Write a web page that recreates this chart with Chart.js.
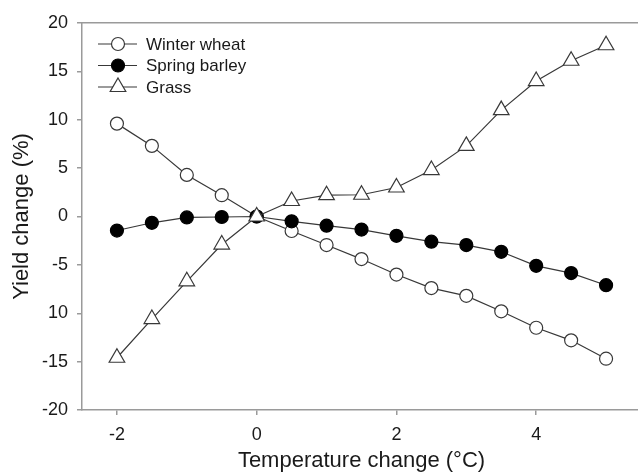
<!DOCTYPE html>
<html>
<head>
<meta charset="utf-8">
<script src="https://cdn.jsdelivr.net/npm/chart.js"></script>
<style>
  html, body { margin: 0; padding: 0; background: #fff; overflow: hidden; }
  #wrap { width: 641px; height: 472px; }
</style>
</head>
<body>
<div id="wrap"><canvas id="yieldChart" width="641" height="472"></canvas></div>
<script>
// temperature change (°C)
var temps = [-2, -1.5, -1, -0.5, 0, 0.5, 1, 1.5, 2, 2.5, 3, 3.5, 4, 4.5, 5];

// yield change (%)
var winterWheat = [9.6, 7.3, 4.3, 2.2, 0, -1.5, -2.95, -4.4, -6.0, -7.4, -8.2, -9.8, -11.5, -12.8, -14.7];
var springBarley = [-1.45, -0.65, -0.1, -0.05, 0, -0.5, -0.95, -1.35, -2.0, -2.6, -2.95, -3.65, -5.1, -5.85, -7.1];
var grass = [-14.6, -10.6, -6.7, -2.9, 0, 1.6, 2.2, 2.25, 3.0, 4.8, 7.3, 11.0, 14.0, 16.1, 17.7];

var seriesNames = ['Winter wheat', 'Spring barley', 'Grass'];

var xTicks = [-2, 0, 2, 4];
var yTicks = [-20, -15, -10, -5, 0, 5, 10, 15, 20];
// labels as printed on the figure
var yTickLabels = ['-20', '-15', '10', '-5', '0', '5', '10', '15', '20'];

function points(values) {
    return temps.map(function(t, i){ return { x: t, y: values[i] }; });
}

var lineColor = '#383838';
var axisColor = '#9a9a9a';
var textColor = '#1a1a1a';
var fontFamily = 'Arial, "Liberation Sans", Helvetica, sans-serif';

// no side padding, the plot runs to the right edge
function noSidePadding(scale){
    scale.paddingLeft = 0;
    scale.paddingRight = 0;
}

// legend drawn inside the plot area, top left
var insideLegend = {
    id: 'insideLegend',
    afterDraw: function(chart){
        var ctx = chart.ctx;
        var left = chart.chartArea.left;
        ctx.save();
        chart.data.datasets.forEach(function(ds, i){
            var y = 44 + i * 21.5;
            var cx = left + 36;
            ctx.strokeStyle = ds.borderColor;
            ctx.lineWidth = 1.2;
            ctx.beginPath();
            ctx.moveTo(left + 16, y);
            ctx.lineTo(left + 55, y);
            ctx.stroke();

            var r = ds.pointRadius;
            ctx.fillStyle = ds.pointBackgroundColor;
            ctx.strokeStyle = ds.pointBorderColor;
            ctx.lineWidth = ds.pointBorderWidth;
            ctx.beginPath();
            if (ds.pointStyle === 'triangle') {
                for (var k = 0; k < 3; k++) {
                    var a = k * 2 * Math.PI / 3;
                    var px = cx + Math.sin(a) * r, py = y - Math.cos(a) * r;
                    if (k === 0) ctx.moveTo(px, py); else ctx.lineTo(px, py);
                }
                ctx.closePath();
            } else {
                ctx.arc(cx, y, r, 0, Math.PI * 2);
            }
            ctx.fill();
            ctx.stroke();

            ctx.fillStyle = textColor;
            ctx.font = '17px ' + fontFamily;
            ctx.textAlign = 'left';
            ctx.textBaseline = 'middle';
            ctx.fillText(seriesNames[i], left + 64, y + 1);
        });
        ctx.restore();
    }
};

var ctx = document.getElementById('yieldChart');
var yieldChart = new Chart(ctx, {
    type: 'line',
    plugins: [insideLegend],
    data: {
        datasets: [
            {
                label: seriesNames[0],
                data: points(winterWheat),
                order: 2,
                borderColor: lineColor,
                borderWidth: 1.2,
                pointStyle: 'circle',
                pointRadius: 6.5,
                pointBackgroundColor: '#ffffff',
                pointBorderColor: lineColor,
                pointBorderWidth: 1.2
            },
            {
                label: seriesNames[1],
                data: points(springBarley),
                order: 1,
                borderColor: lineColor,
                borderWidth: 1.2,
                pointStyle: 'circle',
                pointRadius: 6.5,
                pointBackgroundColor: '#000000',
                pointBorderColor: '#000000',
                pointBorderWidth: 1.2
            },
            {
                label: seriesNames[2],
                data: points(grass),
                order: 0,
                borderColor: lineColor,
                borderWidth: 1.2,
                pointStyle: 'triangle',
                pointRadius: 9,
                pointBackgroundColor: '#ffffff',
                pointBorderColor: lineColor,
                pointBorderWidth: 1.2
            }
        ]
    },
    options: {
        responsive: false,
        animation: false,
        layout: { padding: 0, autoPadding: false },
        plugins: {
            legend: { display: false },
            tooltip: { enabled: false }
        },
        elements: { line: { tension: 0 } },
        scales: {
            x: {
                type: 'linear',
                position: 'bottom',
                min: -2.5,
                max: 5.5,
                afterBuildTicks: function(scale){
                    scale.ticks = xTicks.map(function(v){ return { value: v }; });
                },
                afterFit: function(scale){
                    scale.height = 62;
                    noSidePadding(scale);
                },
                ticks: {
                    color: textColor,
                    font: { family: fontFamily, size: 18 },
                    padding: 9,
                    maxRotation: 0
                },
                grid: {
                    display: true,
                    drawOnChartArea: false,
                    drawTicks: true,
                    tickLength: 5,
                    color: axisColor,
                    lineWidth: 1.5
                },
                border: { display: true, color: axisColor, width: 1.5 },
                title: {
                    display: true,
                    text: 'Temperature change (°C)',
                    color: textColor,
                    font: { family: fontFamily, size: 22, lineHeight: 1 },
                    padding: { top: 0, bottom: 0 }
                }
            },
            xTop: {
                type: 'linear',
                position: 'top',
                min: -2.5,
                max: 5.5,
                afterBuildTicks: function(scale){
                    scale.ticks = xTicks.map(function(v){ return { value: v }; });
                },
                afterFit: function(scale){
                    scale.height = 23;
                    noSidePadding(scale);
                },
                ticks: { display: false },
                grid: { display: false, drawTicks: false },
                border: { display: true, color: axisColor, width: 1.5 }
            },
            y: {
                type: 'linear',
                min: -20,
                max: 20,
                afterBuildTicks: function(scale){
                    scale.ticks = yTicks.map(function(v){ return { value: v }; });
                },
                afterFit: function(scale){ scale.width = 82; },
                ticks: {
                    color: textColor,
                    font: { family: fontFamily, size: 18 },
                    padding: 9,
                    callback: function(value){
                        var i = yTicks.indexOf(value);
                        return i >= 0 ? yTickLabels[i] : '';
                    }
                },
                grid: {
                    display: true,
                    drawOnChartArea: false,
                    drawTicks: true,
                    tickLength: 5,
                    color: axisColor,
                    lineWidth: 1.5
                },
                border: { display: true, color: axisColor, width: 1.5 },
                title: {
                    display: true,
                    text: 'Yield change (%)',
                    color: textColor,
                    font: { family: fontFamily, size: 22, lineHeight: 1 },
                    padding: { top: 11, bottom: 0 }
                }
            }
        }
    }
});
</script>
</body>
</html>
